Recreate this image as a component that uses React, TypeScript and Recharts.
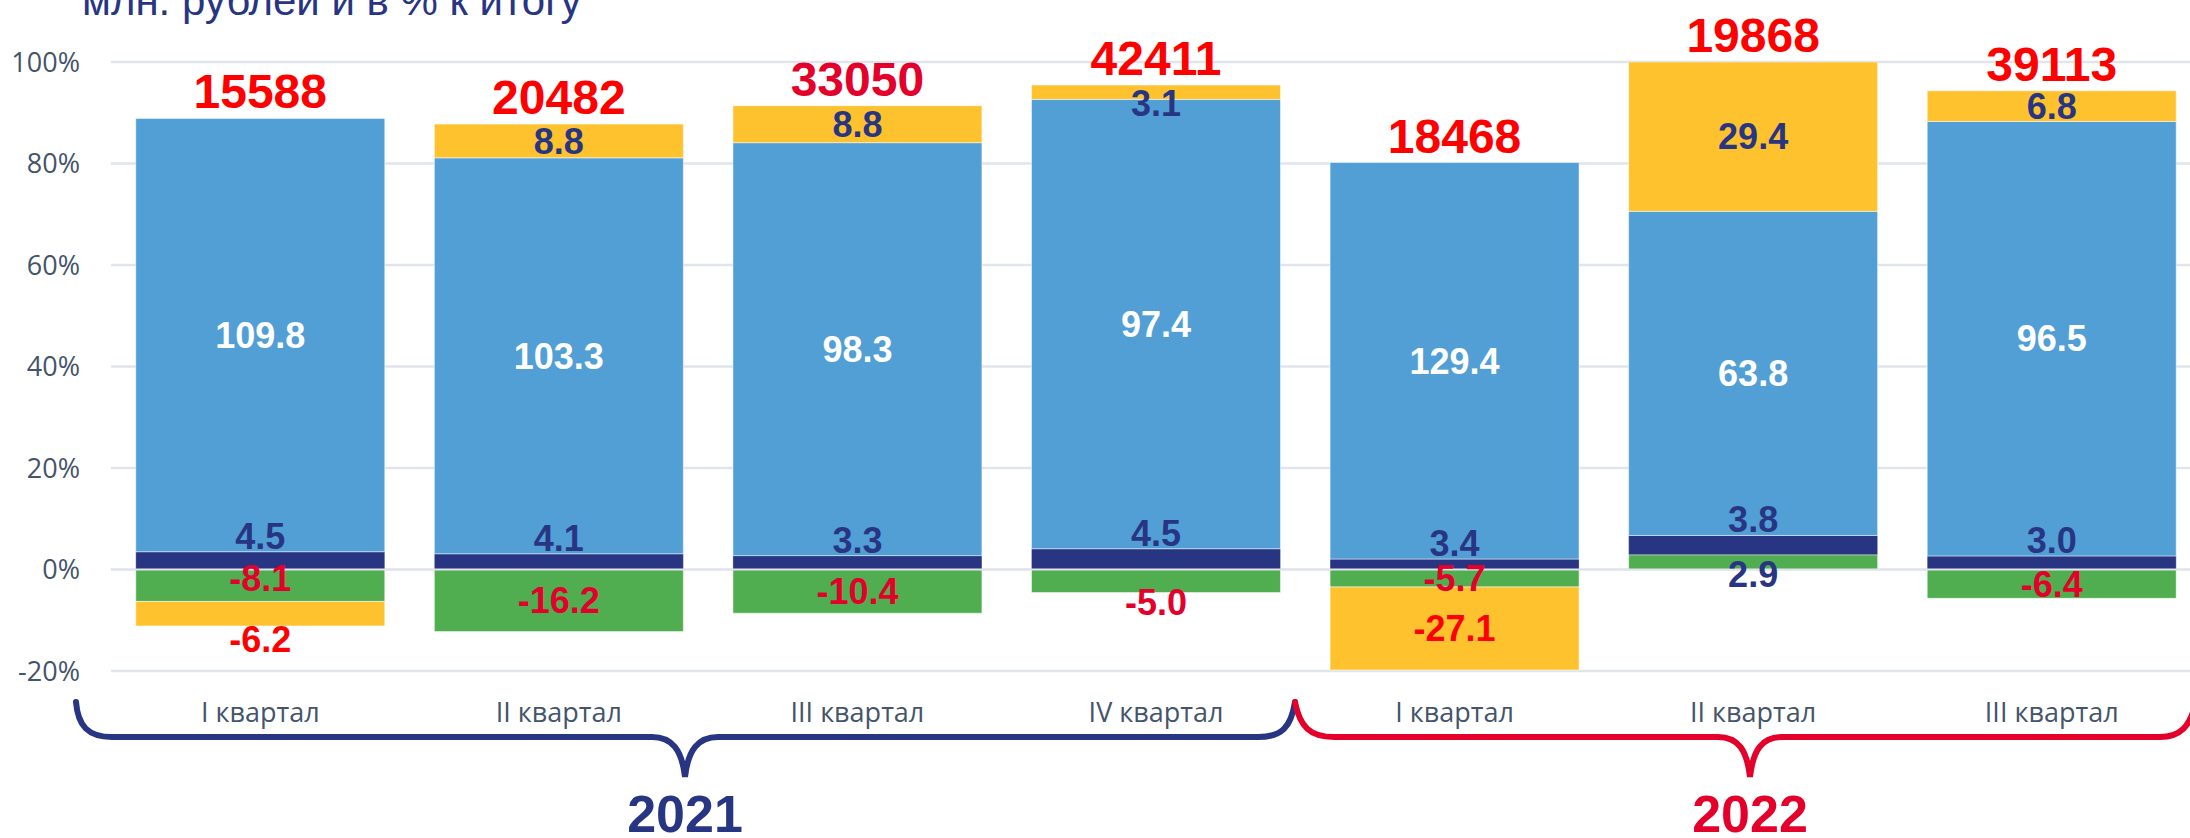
import React from 'react';
import { ComposedChart, Bar, Line, XAxis, YAxis, CartesianGrid, LabelList, ReferenceLine } from 'recharts';

// кварталы 2021-2022
const quarters = ['I квартал', 'II квартал', 'III квартал', 'IV квартал', 'I квартал', 'II квартал', 'III квартал'];
// значения в % к итогу (подписи на столбцах)
const greenVals = [-8.1, -16.2, -10.4, -5.0, -5.7, 2.9, -6.4];
const navyVals = [4.5, 4.1, 3.3, 4.5, 3.4, 3.8, 3.0];
const blueVals = [109.8, 103.3, 98.3, 97.4, 129.4, 63.8, 96.5];
const yellowVals = [-6.2, 8.8, 8.8, 3.1, -27.1, 29.4, 6.8];
// итого, млн. рублей
const totals = [15588, 20482, 33050, 42411, 18468, 19868, 39113];
const yTicks = [-20, 0, 20, 40, 60, 80, 100];

const C = {
  blue: '#529FD6',
  navy: '#283583',
  green: '#50AE50',
  yellow: '#FEC22E',
  red: '#FF0000',
  crimson: '#E3002B',
  axis: '#44546A',
  grid: '#E1E5EB',
};

// ручные сдвиги подписей (как в исходном слайде)
const greenShift = [-7, 0, 0, 21, 0, 12, 0];
const yellowShift = [26, 0, 0, 11, 0, 0, 0];
const totalColors = [C.red, C.red, C.crimson, C.red, C.red, C.red, C.red];

// 100% stacked: доля каждого сегмента от суммы модулей
const data = quarters.map((q, i) => {
  const vals = [greenVals[i], navyVals[i], blueVals[i], yellowVals[i]];
  const abs = vals.reduce((s, v) => s + Math.abs(v), 0);
  const pos = vals.filter(v => v > 0).reduce((s, v) => s + v, 0);
  return {
    name: q,
    green: (greenVals[i] / abs) * 100,
    navy: (navyVals[i] / abs) * 100,
    blue: (blueVals[i] / abs) * 100,
    yellow: (yellowVals[i] / abs) * 100,
    top: (pos / abs) * 100,
    greenRaw: greenVals[i],
    navyRaw: navyVals[i],
    blueRaw: blueVals[i],
    yellowRaw: yellowVals[i],
    total: totals[i],
  };
});

const LBL_FONT = '"Liberation Sans", Arial, sans-serif';

function segLabel(kind: string) {
  return (p: any) => {
    const { x, y, width, height, value, index } = p;
    if (value === undefined || value === null) return null;
    const top = Math.min(y, y + height);
    const h = Math.abs(height);
    const cx = x + width / 2;
    let ty = top + h / 2;
    let fill = C.navy;
    let dy = '0.355em';
    if (kind === 'blue') fill = '#ffffff';
    if (kind === 'navy') {
      ty = top - 3;
      dy = '0';
    }
    if (kind === 'green') {
      fill = value < 0 ? C.crimson : C.navy;
      ty += greenShift[index] || 0;
    }
    if (kind === 'yellow') {
      fill = value < 0 ? C.red : C.navy;
      ty += yellowShift[index] || 0;
    }
    return (
      <text key={kind + index} x={cx} y={ty} dy={dy} textAnchor="middle" fill={fill}
        fontFamily={LBL_FONT} fontWeight="bold" fontSize={36}>
        {Number(value).toFixed(1)}
      </text>
    );
  };
}

const totalLabel = (p: any) => {
  const { x, y, value, index } = p;
  return (
    <text key={'t' + index} x={x} y={y - 10} textAnchor="middle" fill={totalColors[index]}
      fontFamily={LBL_FONT} fontWeight="bold" fontSize={48}>
      {value}
    </text>
  );
};

export default function App() {
  return (
    <div style={{ position: 'absolute', left: 0, top: 0, width: 2190, height: 838, overflow: 'hidden', background: '#fff' }}>
      <ComposedChart width={2210} height={838} data={data} stackOffset="sign"
        margin={{ top: 62, right: 9, bottom: 107, left: 0 }} barCategoryGap="8.3%">
        <CartesianGrid vertical={false} stroke={C.grid} strokeWidth={2.5} />
        <XAxis dataKey="name" axisLine={false} tickLine={false} tickSize={0} tickMargin={32} height={60}
          tick={{ fill: C.axis, fontSize: 27, fontFamily: '"Open Sans", sans-serif' }} />
        <YAxis type="number" domain={[-20, 100]} ticks={yTicks} allowDataOverflow width={111}
          axisLine={false} tickLine={false} tickSize={0} tickMargin={31}
          tickFormatter={(v: number) => v + '%'}
          tick={{ fill: C.axis, fontSize: 27, fontFamily: '"Open Sans", sans-serif' }} />
        <Bar dataKey="green" stackId="a" fill={C.green} stroke="#ffffff" strokeOpacity={0.5} strokeWidth={1} isAnimationActive={false}>
          <LabelList dataKey="greenRaw" content={segLabel('green')} />
        </Bar>
        <Bar dataKey="navy" stackId="a" fill={C.navy} stroke="#ffffff" strokeOpacity={0.3} strokeWidth={1} isAnimationActive={false}>
          <LabelList dataKey="navyRaw" content={segLabel('navy')} />
        </Bar>
        <Bar dataKey="blue" stackId="a" fill={C.blue} stroke="#ffffff" strokeOpacity={0.5} strokeWidth={1} isAnimationActive={false}>
          <LabelList dataKey="blueRaw" content={segLabel('blue')} />
        </Bar>
        <Bar dataKey="yellow" stackId="a" fill={C.yellow} stroke="#ffffff" strokeOpacity={0.5} strokeWidth={1} isAnimationActive={false}>
          <LabelList dataKey="yellowRaw" content={segLabel('yellow')} />
        </Bar>
        <ReferenceLine y={0} stroke={C.grid} strokeWidth={2} />
        <Line dataKey="top" stroke="none" dot={false} activeDot={false} isAnimationActive={false}>
          <LabelList dataKey="total" content={totalLabel} />
        </Line>
      </ComposedChart>
      <svg width={2190} height={838} style={{ position: 'absolute', left: 0, top: 0, pointerEvents: 'none' }}>
        <text x={82} y={15} fill={C.navy} fontSize={42} fontFamily={LBL_FONT}>млн. рублей и в % к итогу</text>
        <path d="M76,702 C78,726 88,737 112,737 L652,737 C672,737 682,750 685,777 C688,750 698,737 718,737 L1258,737 C1282,737 1291,727 1295,702"
          fill="none" stroke={C.navy} strokeWidth={6} strokeLinecap="round" />
        <path d="M1295,702 C1300,727 1310,737 1334,737 L1718,737 C1738,737 1747,750 1750,777 C1753,750 1762,737 1782,737 L2160,737 C2180,737 2190,727 2196,702"
          fill="none" stroke={C.crimson} strokeWidth={6} strokeLinecap="round" />
        <text x={685} y={832} textAnchor="middle" fill={C.navy} fontSize={52} fontWeight="bold" fontFamily={LBL_FONT}>2021</text>
        <text x={1750} y={832} textAnchor="middle" fill={C.crimson} fontSize={52} fontWeight="bold" fontFamily={LBL_FONT}>2022</text>
      </svg>
    </div>
  );
}
